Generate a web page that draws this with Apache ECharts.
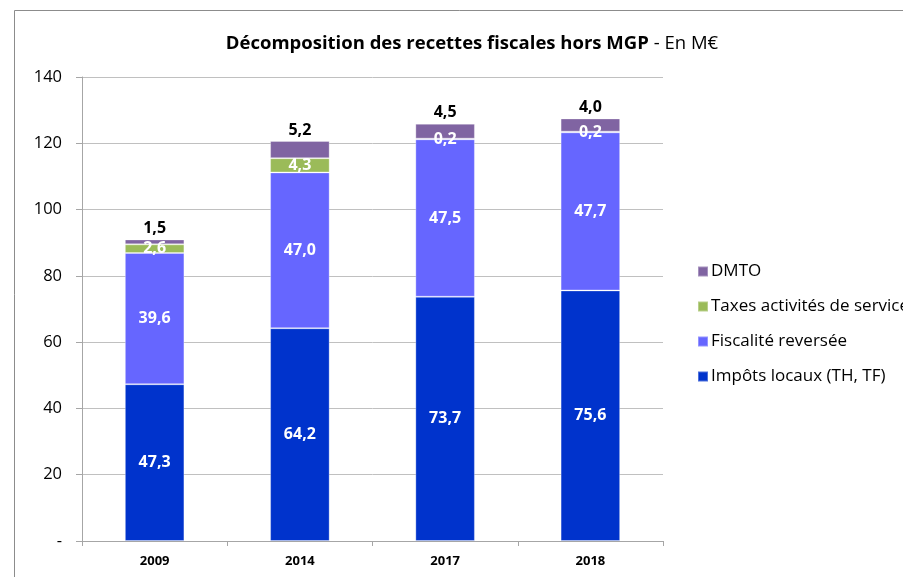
<!DOCTYPE html>
<html>
<head>
<meta charset="utf-8">
<script src="https://cdn.jsdelivr.net/npm/echarts@6/dist/echarts.min.js"></script>
<style>
  html, body { margin: 0; padding: 0; background: #fff; }
  #chart { width: 903px; height: 577px; }
</style>
</head>
<body>
<div id="chart"></div>
<script>
// data
const years = ['2009', '2014', '2017', '2018'];
const impotsLocaux = [47.3, 64.2, 73.7, 75.6];
const fiscaliteReversee = [39.6, 47.0, 47.5, 47.7];
const taxesActivites = [2.6, 4.3, 0.2, 0.2];
const dmto = [1.5, 5.2, 4.5, 4.0];

const FONT = '"Open Sans", "Noto Sans", sans-serif';
const fmt = (v) => v.toFixed(1).replace('.', ',');

const chart = echarts.init(document.getElementById('chart'));

function barSeries(name, data, color, label) {
  return {
    name: name,
    type: 'bar',
    stack: 'total',
    barWidth: '41%',
    data: data,
    itemStyle: { color: color, borderColor: 'rgba(255,255,255,0.3)', borderWidth: 1 },
    label: Object.assign({
      show: true,
      fontFamily: FONT,
      fontWeight: 'bold',
      fontSize: 16,
      formatter: (p) => fmt(p.value)
    }, label),
    emphasis: { disabled: true }
  };
}

chart.setOption({
  animation: false,
  backgroundColor: '#fff',
  title: {
    text: '{b|Décomposition des recettes fiscales hors MGP} {n|- En M€}',
    left: 467,
    top: 29,
    textAlign: 'center',
    textStyle: {
      rich: {
        b: { fontFamily: FONT, fontSize: 18.5, fontWeight: 'bold', color: '#000' },
        n: { fontFamily: FONT, fontSize: 18.5, fontWeight: 'normal', color: '#000' }
      }
    }
  },
  graphic: [{
    type: 'rect',
    shape: { x: 14.5, y: 10.5, width: 1000, height: 1000 },
    style: { fill: 'none', stroke: '#8c8c8c', lineWidth: 1 },
    silent: true
  }],
  legend: {
    orient: 'vertical',
    left: 692,
    top: 258,
    itemWidth: 10,
    itemHeight: 10,
    itemGap: 18,
    icon: 'rect',
    data: ['DMTO', 'Taxes activités de service', 'Fiscalité reversée', 'Impôts locaux (TH, TF)'],
    textStyle: { fontFamily: FONT, fontSize: 17, color: '#000', padding: [0, 0, 0, -2] }
  },
  grid: { left: 82, right: 240, top: 77, bottom: 36 },
  xAxis: {
    type: 'category',
    data: years,
    axisLine: { lineStyle: { color: '#a6a6a6' } },
    axisTick: { show: true, length: 5, lineStyle: { color: '#a6a6a6' } },
    axisLabel: { fontFamily: FONT, fontSize: 13, fontWeight: 'bold', color: '#000', margin: 14 }
  },
  yAxis: {
    type: 'value',
    min: 0,
    max: 140,
    interval: 20,
    axisLine: { show: true, lineStyle: { color: '#a6a6a6' } },
    axisTick: { show: true, length: 6, lineStyle: { color: '#a6a6a6' } },
    splitLine: { lineStyle: { color: '#c0c0c0' } },
    axisLabel: {
      fontFamily: FONT, fontSize: 16.5, color: '#000', margin: 20,
      formatter: (v) => (v === 0 ? '-' : String(v))
    }
  },
  series: [
    barSeries('Impôts locaux (TH, TF)', impotsLocaux, '#0033cc', { position: 'inside', color: '#fff' }),
    barSeries('Fiscalité reversée', fiscaliteReversee, '#6666ff', { position: 'inside', color: '#fff' }),
    barSeries('Taxes activités de service', taxesActivites, '#9bbb59', { position: 'inside', color: '#fff' }),
    barSeries('DMTO', dmto, '#8064a2', { position: 'top', color: '#000', distance: 3 })
  ]
});
</script>
</body>
</html>
